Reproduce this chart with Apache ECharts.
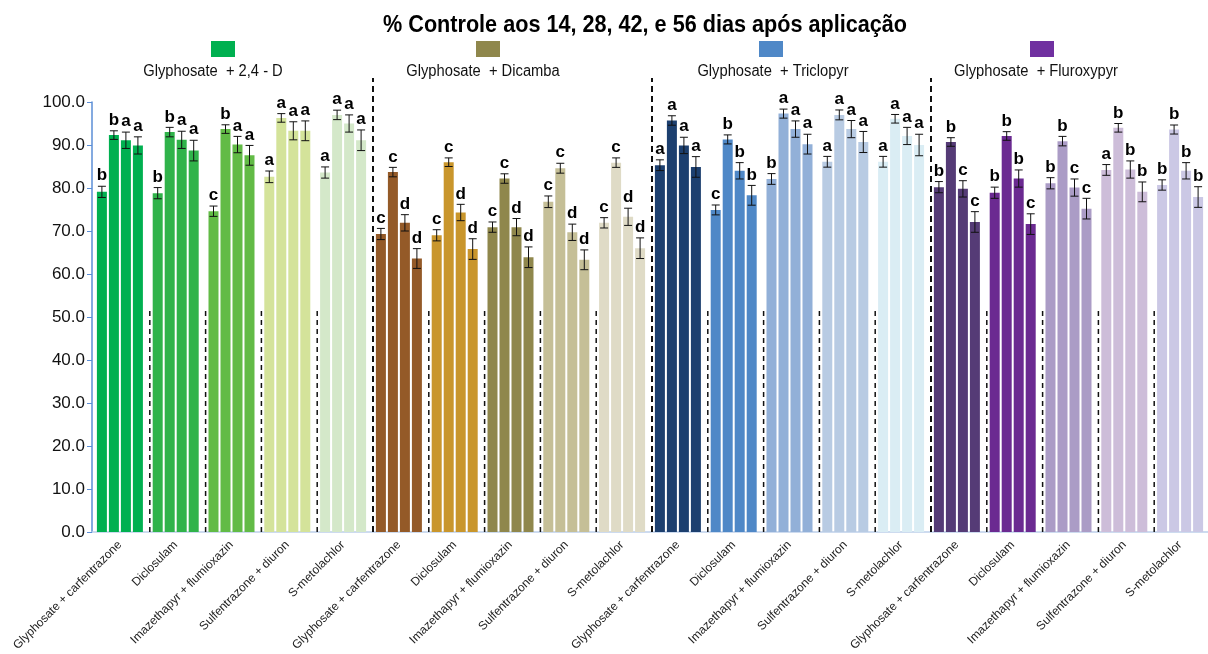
<!DOCTYPE html>
<html>
<head>
<meta charset="utf-8">
<script src="https://cdn.jsdelivr.net/npm/echarts@6/dist/echarts.min.js"></script>
<style>
  html, body { margin: 0; padding: 0; background: #ffffff; }
  #chart { width: 1208px; height: 654px; }
</style>
</head>
<body>
<div id="chart"></div>
<script>
// Herbicide partners applied with each glyphosate mixture
const treatments = ['Glyphosate + carfentrazone', 'Diclosulam', 'Imazethapyr + flumioxazin', 'Sulfentrazone + diuron', 'S-metolachlor'];
// Glyphosate mixtures (one block of five treatments each)
const mixtures = ['Glyphosate  + 2,4 - D', 'Glyphosate  + Dicamba', 'Glyphosate  + Triclopyr', 'Glyphosate  + Fluroxypyr'];
// Evaluation dates, days after application
const days = ['14', '28', '42', '56'];
// One category per mixture x treatment
const categories = mixtures.flatMap(() => treatments);

// % control at each evaluation date (20 categories)
const control14 = [79.1, 78.8, 74.6, 82.6, 83.6, 69.3, 69.0, 70.9, 76.8, 71.9, 85.3, 74.9, 82.1, 86.1, 86.1, 80.2, 78.9, 81.1, 84.2, 80.7];
const control28 = [92.3, 93.0, 93.7, 96.3, 97.0, 83.7, 86.0, 82.2, 84.6, 85.9, 95.7, 91.3, 97.3, 97.0, 96.1, 90.7, 92.1, 90.9, 94.0, 93.6];
const control42 = [91.1, 91.2, 90.1, 93.3, 95.0, 71.9, 74.3, 70.9, 69.7, 73.3, 89.9, 84.0, 93.7, 93.7, 92.1, 79.8, 82.2, 80.1, 84.3, 84.0];
const control56 = [89.9, 88.7, 87.6, 93.3, 91.1, 63.6, 65.8, 63.9, 63.3, 66.0, 84.9, 78.3, 90.2, 90.7, 90.0, 72.1, 71.6, 75.2, 79.1, 77.9];

// Standard errors
const error14 = [1.3, 1.3, 1.2, 1.35, 1.3, 1.3, 1.3, 1.2, 1.35, 1.2, 1.25, 1.15, 1.25, 1.25, 1.25, 1.3, 1.3, 1.3, 1.25, 1.2];
const error28 = [1.0, 1.1, 1.0, 1.0, 1.1, 1.1, 1.0, 1.1, 1.15, 1.1, 1.1, 1.05, 1.05, 1.15, 1.0, 1.0, 1.0, 1.1, 1.0, 1.05];
const error42 = [1.9, 2.0, 1.9, 2.1, 2.0, 1.9, 1.9, 2.0, 1.9, 2.0, 1.9, 1.9, 1.9, 2.0, 2.0, 1.9, 2.0, 2.0, 2.0, 1.9];
const error56 = [2.0, 2.4, 2.3, 2.3, 2.4, 2.3, 2.4, 2.4, 2.3, 2.4, 2.4, 2.3, 2.3, 2.45, 2.5, 2.4, 2.4, 2.4, 2.3, 2.4];

// Mean separation letters
const letters14 = ['b', 'b', 'c', 'a', 'a', 'c', 'c', 'c', 'c', 'c', 'a', 'c', 'b', 'a', 'a', 'b', 'b', 'b', 'a', 'b'];
const letters28 = ['b', 'b', 'b', 'a', 'a', 'c', 'c', 'c', 'c', 'c', 'a', 'b', 'a', 'a', 'a', 'b', 'b', 'b', 'b', 'b'];
const letters42 = ['a', 'a', 'a', 'a', 'a', 'd', 'd', 'd', 'd', 'd', 'a', 'b', 'a', 'a', 'a', 'c', 'b', 'c', 'b', 'b'];
const letters56 = ['a', 'a', 'a', 'a', 'a', 'd', 'd', 'd', 'd', 'd', 'a', 'b', 'a', 'a', 'a', 'c', 'c', 'c', 'b', 'b'];

// Separator positions between categories on the 0..20 scale
const dividers = [1, 2, 3, 4, 5, 6, 7, 8, 9, 10, 11, 12, 13, 14, 15, 16, 17, 18, 19];

// Fill colour of each category's bars
const barColors = [
  '#00b050', '#30b34a', '#62bb46', '#d4e39a', '#d4e8c9',
  '#945a28', '#c9962c', '#8f874c', '#c5bf97', '#dfdbc6',
  '#1c3f6f', '#4f88c7', '#92b0d8', '#b8cbe3', '#daedf4',
  '#553b76', '#6b2a91', '#ab9cc6', '#cdbdd9', '#cbc8e5'
];
const mixtureColors = ['#00b050', '#8f874c', '#4f88c7', '#7030a0'];

const values = [control14, control28, control42, control56];
const errors = [error14, error28, error42, error56];
const letters = [letters14, letters28, letters42, letters56];

const FONT = "'Liberation Sans', Arial, sans-serif";
const BAR_W = 10;
const BAR_STEP = 12;

const chart = echarts.init(document.getElementById('chart'));

const barSeries = days.map((d, k) => ({
  name: d,
  type: 'bar',
  xAxisIndex: 0,
  yAxisIndex: 0,
  data: values[k],
  barWidth: BAR_W,
  barGap: '20%',
  itemStyle: { color: p => barColors[p.dataIndex] },
  z: 2
}));

// Error bars with the letter over each bar
const errorSeries = days.map((d, k) => ({
  name: d + ' err',
  type: 'custom',
  xAxisIndex: 0,
  yAxisIndex: 0,
  data: values[k].map((v, i) => [i, v]),
  clip: false,
  z: 5,
  renderItem: (params, api) => {
    const i = params.dataIndex;
    const v = values[k][i];
    const e = errors[k][i];
    const c = api.coord([i, v]);
    const x = c[0] + (k - 1.5) * BAR_STEP;
    const yHi = api.coord([i, v + e])[1];
    const yLo = api.coord([i, v - e])[1];
    const cap = 4;
    const ls = { stroke: '#111', lineWidth: 1 };
    return {
      type: 'group',
      children: [
        { type: 'line', shape: { x1: x, y1: yHi, x2: x, y2: yLo }, style: ls },
        { type: 'line', shape: { x1: x - cap, y1: yHi, x2: x + cap, y2: yHi }, style: ls },
        { type: 'line', shape: { x1: x - cap, y1: yLo, x2: x + cap, y2: yLo }, style: ls },
        {
          type: 'text',
          style: {
            text: letters[k][i], x: x, y: yHi - 2,
            align: 'center', verticalAlign: 'bottom',
            font: 'bold 17px ' + FONT, fill: '#000'
          }
        }
      ]
    };
  }
}));

// Dashed separators: long between mixtures, short between treatments
const dividerSeries = {
  type: 'custom',
  xAxisIndex: 1,
  yAxisIndex: 0,
  data: dividers.map(x => [x, 0]),
  clip: false,
  z: 4,
  renderItem: (params, api) => {
    const x = api.value(0);
    const isBlock = x % 5 === 0;
    const p0 = api.coord([x, 0]);
    const p1 = api.coord([x, isBlock ? 105.6 : 52]);
    return {
      type: 'line',
      shape: { x1: p0[0] + 2, y1: p0[1], x2: p1[0] + 2, y2: p1[1] },
      style: {
        stroke: '#111',
        lineWidth: isBlock ? 2 : 1.5,
        lineDash: isBlock ? [6, 4] : [5, 4]
      }
    };
  }
};

// Condensed bold title
const graphics = [{
  type: 'text',
  x: 645,
  y: 26,
  scaleX: 0.94,
  style: {
    text: '% Controle aos 14, 28, 42, e 56 dias após aplicação',
    x: 0, y: 0, align: 'center', verticalAlign: 'middle',
    font: 'bold 23px ' + FONT, fill: '#000'
  }
}];

// Mixture legend: swatch above its name
const legendSwatchX = [223, 488, 771, 1042];
const legendTextX = [213, 483, 773, 1036];
mixtures.forEach((m, j) => {
  graphics.push({
    type: 'rect',
    shape: { x: legendSwatchX[j] - 12, y: 41, width: 24, height: 16 },
    style: { fill: mixtureColors[j] }
  });
  graphics.push({
    type: 'text',
    x: legendTextX[j],
    y: 72,
    scaleX: 0.92,
    style: {
      text: m, x: 0, y: 0,
      align: 'center', verticalAlign: 'middle',
      font: '16px ' + FONT, fill: '#111'
    }
  });
});

chart.setOption({
  animation: false,
  backgroundColor: '#ffffff',
  grid: { left: 92, top: 102, width: 1120, height: 430, containLabel: false },
  xAxis: [
    {
      type: 'category',
      data: categories,
      axisLine: { show: true, lineStyle: { color: '#bdd0ea', width: 1.5 } },
      axisTick: { show: false },
      axisLabel: {
        interval: 0, rotate: 45, margin: 11,
        fontFamily: FONT, fontSize: 12, color: '#222'
      },
      splitLine: { show: false }
    },
    { type: 'value', min: 0, max: 20, show: false }
  ],
  yAxis: {
    type: 'value',
    min: 0,
    max: 100,
    interval: 10,
    axisLine: { show: true, lineStyle: { color: '#5b8ed6', width: 1.5 } },
    axisTick: { show: true, length: 5, lineStyle: { color: '#5b8ed6' } },
    axisLabel: {
      margin: 7, fontFamily: FONT, fontSize: 17, color: '#111',
      formatter: v => v.toFixed(1)
    },
    splitLine: { show: false }
  },
  graphic: graphics,
  series: [...barSeries, ...errorSeries, dividerSeries]
});
</script>
</body>
</html>
